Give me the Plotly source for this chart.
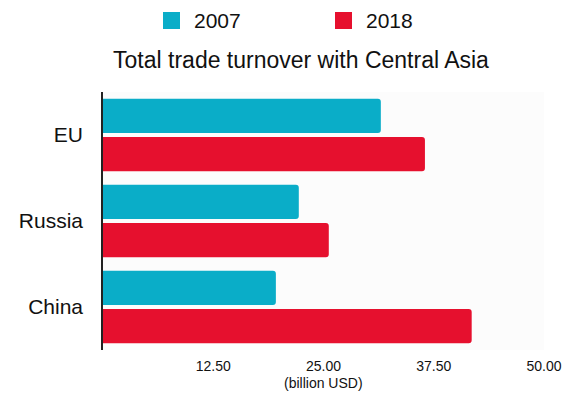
import plotly.graph_objects as go

# Trade turnover with Central Asia, billion USD
partners = ["EU", "Russia", "China"]
years = ["2007", "2018"]
turnover_2007 = [31.5, 22.2, 19.6]
turnover_2018 = [36.5, 25.6, 41.8]
tick_values = [12.5, 25, 37.5, 50]
tick_labels = ["12.50", "25.00", "37.50", "50.00"]

colors = {"2007": "#0AADC8", "2018": "#E6102E"}
FONT = "Liberation Sans, Arial, Helvetica, sans-serif"
W, H = 563, 398
ML, MR, MT, MB = 103, 19, 92, 48

fig = go.Figure()
for year, values in zip(years, [turnover_2007, turnover_2018]):
    fig.add_trace(go.Bar(
        y=partners, x=values, name=year, orientation="h",
        marker=dict(color=colors[year], line=dict(width=0)),
        showlegend=False,
        hovertemplate="%{y}: %{x} bn USD<extra>" + year + "</extra>",
    ))

# Pixel helpers for placing the legend row and axis caption in paper units
plot_w, plot_h = W - ML - MR, H - MT - MB
def px_x(px):
    return (px - ML) / plot_w
def px_y(py):
    return (H - MB - py) / plot_h

# Legend row above the title: a coloured square followed by the year
legend_left = [163, 335]
for year, left in zip(years, legend_left):
    fig.add_shape(
        type="rect", xref="paper", yref="paper",
        x0=px_x(left), x1=px_x(left + 17), y0=px_y(29), y1=px_y(12),
        fillcolor=colors[year], line=dict(width=0),
    )
    fig.add_annotation(
        text=year, xref="paper", yref="paper",
        x=px_x(left + 29), y=px_y(21), xanchor="left", yanchor="middle",
        showarrow=False, font=dict(size=21, family=FONT, color="#111111"),
    )

# Unit caption tucked right under the tick labels
fig.add_annotation(
    text="(billion USD)", xref="paper", yref="paper",
    x=0.5, y=px_y(383), xanchor="center", yanchor="middle",
    showarrow=False, font=dict(size=14, family=FONT, color="#111111"),
)

fig.update_layout(
    width=W, height=H,
    margin=dict(l=ML, r=MR, t=MT, b=MB, autoexpand=False),
    paper_bgcolor="white", plot_bgcolor="#FCFCFC",
    font=dict(family=FONT, color="#111111"),
    barmode="group", bargap=0.11, bargroupgap=0.105, barcornerradius=3,
    showlegend=False,
    title=dict(
        text="Total trade turnover with Central Asia",
        font=dict(size=23, family=FONT, color="#111111"),
        xref="container", x=301 / W, xanchor="center",
        yref="container", y=1 - 60 / H, yanchor="middle",
    ),
    xaxis=dict(
        range=[0, 50], tickvals=tick_values, ticktext=tick_labels,
        showgrid=False, zeroline=False, showline=False, ticks="",
        ticklabelstandoff=6,
        tickfont=dict(size=14, family=FONT, color="#111111"),
    ),
    yaxis=dict(
        autorange="reversed", showgrid=False, zeroline=False,
        showline=True, linecolor="#222222", linewidth=1.5, ticks="",
        ticklabelstandoff=14,
        tickfont=dict(size=21, family=FONT, color="#111111"),
    ),
)

fig.write_html("out.html")
